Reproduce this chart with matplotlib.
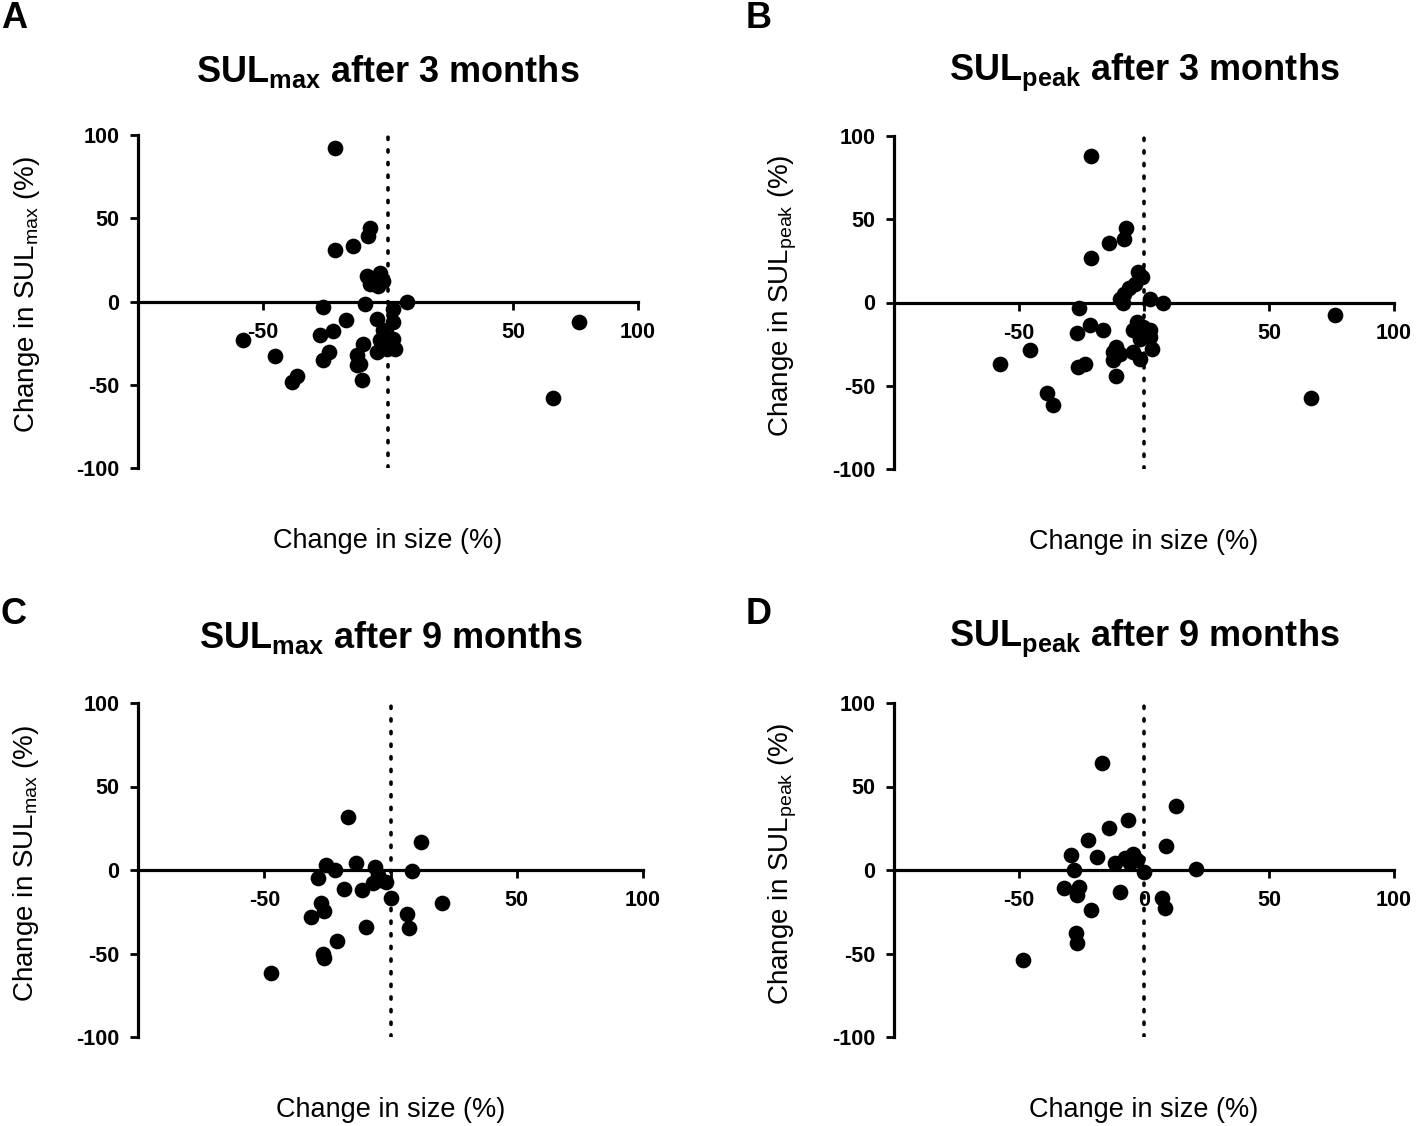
import matplotlib
matplotlib.use("Agg")
import matplotlib.pyplot as plt

plt.rcParams["font.family"] = ["Liberation Sans", "DejaVu Sans"]
plt.rcParams["mathtext.fontset"] = "custom"
plt.rcParams["mathtext.rm"] = "Liberation Sans"
plt.rcParams["mathtext.bf"] = "Liberation Sans:bold"
plt.rcParams["mathtext.it"] = "Liberation Sans:italic"
plt.rcParams["axes.unicode_minus"] = False

# --------------------------------------------------
# Data (change in size %, change in SUL %)
# --------------------------------------------------

a_size = [-21.2, -7.2, -7.9, -21.2, -14.1, -8.5, -3.2, -7.2, -3.9, -1.9,
          7.5, -25.9, -9.2, 2.1, -16.8, -4.5, 2.1, -21.9, -27.2, -1.9,
          -3.2, 2.1, -0.5, 2.8, -4.5, -10.1, -57.9, -45.2, -23.5, -25.9,
          -12.5, -11.2, -12.5, -36.5, -38.5, -10.5, 76.4, 66.0]
a_sul = [92, 44, 39.5, 31, 33.5, 15.6, 17, 10.6, 9.6, 12.6,
         0, -3.4, -1.8, -4.4, -11, -10.4, -12.4, -18, -20.4, -17.4,
         -23.4, -22.3, -28.3, -28.3, -30.4, -25.3, -23, -33, -30.4, -35,
         -32.3, -37.3, -38.3, -45, -48.3, -47, -12.6, -58]

b_size = [-21.1, -7.1, -8.1, -14.0, -21.1, -2.4, -1.0, -3.7, -6.0, -8.1,
          -9.7, -8.4, 2.3, 7.4, -26.0, -21.7, -16.6, -26.8, -3.0, -4.4,
          -0.4, 2.3, -1.7, 2.3, 3.0, -4.4, -1.7, -11.1, -12.4, -9.7,
          -12.4, -11.1, -45.7, -57.7, -23.7, -26.4, -38.8, -36.4, 76.3, 66.7]
b_sul = [88, 44.7, 38.1, 35.7, 26.5, 18.1, 15.2, 11.2, 8.8, 5.2,
         2.2, -0.6, 2.2, -0.2, -3.6, -13.4, -16.5, -18.6, -11.8, -16.8,
         -14.8, -16.8, -21.7, -20.8, -27.7, -29.7, -33.7, -26.8, -29.8, -31.1,
         -34.8, -44.1, -28.7, -36.7, -36.7, -38.7, -54.3, -61.7, -7.8, -57.5]

c_size = [-16.9, 12.1, -25.7, -22.1, -28.7, -13.8, -6.3, -5.0, -7.0, -1.7,
          -4.3, 8.6, -18.4, -11.2, 0.0, 20.4, -27.7, -26.4, -31.6, 6.6,
          7.5, -9.6, -21.1, -26.6, -26.4, -47.4]
c_sul = [31.6, 16.9, 3, 0, -5, 4, 2, -3, -8, -7,
         -6, -0.6, -11.6, -12, -17, -20, -20, -24.6, -27.9, -26.5,
         -34.9, -34, -42.5, -50.5, -52.9, -61.9]

d_size = [-17.0, 12.6, -6.6, -14.0, -22.6, 8.8, -29.1, -18.7, -11.6, -7.6,
          -4.3, -3.0, -5.6, 0.0, -28.0, 20.8, -32.0, -26.0, -27.0, -9.7,
          7.0, 8.4, -21.2, -27.3, -26.9, -48.4]
d_sul = [63.9, 38.1, 30, 25, 18, 14.4, 9, 8, 4, 7,
         9.6, 6, 4, -1, 0, 0.4, -10.6, -10, -15, -13.4,
         -17, -23, -24, -37.5, -43.5, -54]

letters = ["A", "B", "C", "D"]
titles = [r"SUL$_\mathbf{max}$ after 3 months", r"SUL$_\mathbf{peak}$ after 3 months",
          r"SUL$_\mathbf{max}$ after 9 months", r"SUL$_\mathbf{peak}$ after 9 months"]
ylabels = [r"Change in SUL$_\mathrm{max}$ (%)", r"Change in SUL$_\mathrm{peak}$ (%)",
           r"Change in SUL$_\mathrm{max}$ (%)", r"Change in SUL$_\mathrm{peak}$ (%)"]
xlabel = "Change in size (%)"
xticks = [-50, 0, 50, 100]
yticks = [-100, -50, 0, 50, 100]

sizes = [a_size, b_size, c_size, d_size]
suls = [a_sul, b_sul, c_sul, d_sul]

# --------------------------------------------------
# Figure
# --------------------------------------------------

W, H = 1418, 1126
fig = plt.figure(figsize=(W / 100, H / 100), dpi=100)

# pixel boxes: left, top, right, bottom
boxes = [(138, 135, 638, 468), (894, 136, 1394, 469),
         (138, 703, 643, 1037), (894, 703, 1394, 1037)]
title_y = [72, 72, 638, 638]

for i in range(4):
    l, t, r, b = boxes[i]
    ax = fig.add_axes([l / W, 1 - b / H, (r - l) / W, (b - t) / H])

    ax.plot(sizes[i], suls[i], "o", color="black", markersize=11.3,
            markeredgewidth=0, zorder=3, clip_on=False)
    ax.plot([0, 0], [-100, 100], color="black", lw=2.6,
            dashes=(0.6, 2.9), dash_capstyle="round", zorder=2)

    ax.set_xlim(-100, 100)
    ax.set_ylim(-100, 100)
    ax.spines["top"].set_visible(False)
    ax.spines["right"].set_visible(False)
    ax.spines["bottom"].set_position(("data", 0))
    ax.spines["left"].set_linewidth(2.3)
    ax.spines["bottom"].set_linewidth(2.3)

    ax.set_xticks(xticks)
    ax.set_yticks(yticks)
    ax.tick_params(axis="both", length=5.5, width=2, labelsize=15.5)
    ax.tick_params(axis="y", pad=8)
    ax.tick_params(axis="x", pad=9)
    for lab in ax.get_xticklabels() + ax.get_yticklabels():
        lab.set_fontweight("bold")

    ax.text(0.5, (b - title_y[i]) / (b - t), titles[i], transform=ax.transAxes,
            ha="center", va="center", fontsize=26, fontweight="bold")
    ax.text(-0.222, 0.52, ylabels[i], transform=ax.transAxes, rotation=90,
            ha="center", va="center", fontsize=20)
    ax.text(0.5, -0.219, xlabel, transform=ax.transAxes,
            ha="center", va="center", fontsize=19.5)

# panel letters
for letter, (px, py) in zip(letters, [(1, 18), (746, 18), (1, 615), (746, 615)]):
    fig.text(px / W, 1 - py / H, letter, fontsize=26, fontweight="bold",
             ha="left", va="center")

fig.savefig("out.png", dpi=100)
